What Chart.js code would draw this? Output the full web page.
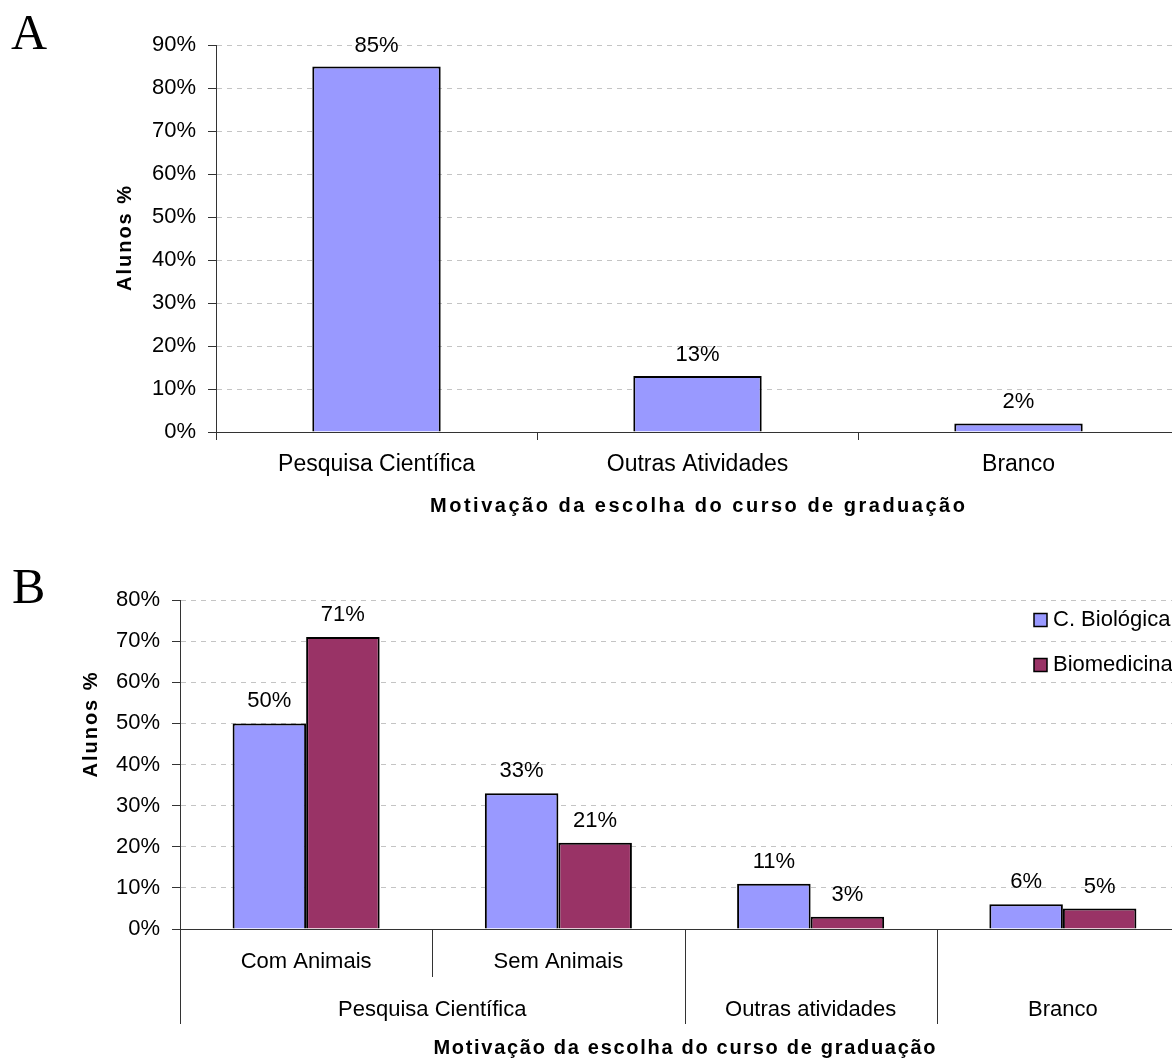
<!DOCTYPE html>
<html lang="pt">
<head>
<meta charset="utf-8">
<title>Motivação da escolha do curso de graduação</title>
<script src="https://cdn.jsdelivr.net/npm/chart.js@4/dist/chart.umd.min.js"></script>
<style>
  html, body { margin: 0; padding: 0; background: #fff; overflow: hidden; width: 1172px; height: 1061px; }
  canvas { position: absolute; left: 0; }
  #chartA { top: 0; }
  #chartB { top: 540px; }
</style>
</head>
<body>
<canvas id="chartA" width="1210" height="540"></canvas>
<canvas id="chartB" width="1210" height="521"></canvas>
<script>
// ---- Painel A: todos os alunos ----
const categoriasA = ['Pesquisa Científica', 'Outras Atividades', 'Branco'];
const valoresA = [85, 13, 2];
const ticksA = [0, 10, 20, 30, 40, 50, 60, 70, 80, 90];

// ---- Painel B: por curso ----
const subcategoriasB = ['Com Animais', 'Sem Animais', '', ''];
const gruposB = ['Pesquisa Científica', 'Outras atividades', 'Branco'];
const gruposSpanB = [2, 1, 1];
const serieBiologicas = [50, 33, 11, 6];
const serieBiomedicina = [71, 21, 3, 5];
const nomesSeriesB = ['C. Biológica', 'Biomedicina'];
const ticksB = [0, 10, 20, 30, 40, 50, 60, 70, 80];

const SANS = '"Liberation Sans", Arial, sans-serif';
const SERIF = '"Liberation Serif", "Times New Roman", serif';
const AZUL = '#9999FF';
const VINHO = '#993366';
const EIXO = '#333333';
const GRADE = '#c4c4c4';

// Text with letter spacing, centred on x
function textoEspacado(ctx, text, x, y, spacing) {
  ctx.letterSpacing = spacing + 'px';
  const w = ctx.measureText(text).width - spacing;
  ctx.textAlign = 'left';
  ctx.fillText(text, x - w / 2, y);
  ctx.letterSpacing = '0px';
}

// Panel letter and axis titles
const titulos = {
  id: 'titulos',
  afterDraw(chart, args, o) {
    const { ctx, chartArea: ca } = chart;
    ctx.save();
    ctx.fillStyle = '#000';
    ctx.font = '50px ' + SERIF;
    ctx.textAlign = 'left';
    ctx.textBaseline = 'alphabetic';
    ctx.fillText(o.letra, o.letraX, o.letraY);

    ctx.font = 'bold ' + o.tamanho + 'px ' + SANS;
    ctx.textBaseline = 'middle';
    textoEspacado(ctx, o.tituloX, (ca.left + ca.right) / 2, o.tituloXY, o.espacoX);

    ctx.translate(o.tituloYX, o.tituloYY != null ? o.tituloYY : (ca.top + ca.bottom) / 2);
    ctx.rotate(-Math.PI / 2);
    textoEspacado(ctx, o.tituloY, 0, 0, o.espacoY);
    ctx.restore();
  }
};

// Value labels above each bar
const rotulos = {
  id: 'rotulos',
  afterDatasetsDraw(chart, args, o) {
    const ctx = chart.ctx;
    ctx.save();
    ctx.font = o.tamanho + 'px ' + SANS;
    ctx.fillStyle = '#000';
    ctx.textAlign = 'center';
    ctx.textBaseline = 'middle';
    chart.data.datasets.forEach((ds, di) => {
      chart.getDatasetMeta(di).data.forEach((bar, i) => {
        ctx.fillText(ds.data[i] + '%', bar.x, bar.y - o.distancia);
      });
    });
    ctx.restore();
  }
};

// Two-level category axis: separators and group labels
const grupos = {
  id: 'grupos',
  afterDraw(chart, args, o) {
    const { ctx, chartArea: ca } = chart;
    const x = chart.scales.x;
    const n = chart.data.labels.length;
    const meia = (x.getPixelForValue(1) - x.getPixelForValue(0)) / 2;
    const borda = i => x.getPixelForValue(i) - meia;
    const inicios = new Set();
    let s = 0;
    gruposSpanB.forEach(span => { inicios.add(s); s += span; });
    inicios.add(s);
    ctx.save();
    ctx.strokeStyle = EIXO;
    ctx.lineWidth = 1;
    for (let i = 0; i <= n; i++) {
      const px = Math.round(borda(i)) + 0.5;
      const len = inicios.has(i) ? o.longo : o.curto;
      ctx.beginPath();
      ctx.moveTo(px, ca.bottom);
      ctx.lineTo(px, ca.bottom + len);
      ctx.stroke();
    }
    ctx.font = o.tamanho + 'px ' + SANS;
    ctx.fillStyle = '#000';
    ctx.textAlign = 'center';
    ctx.textBaseline = 'middle';
    s = 0;
    gruposB.forEach((g, k) => {
      const cx = (borda(s) + borda(s + gruposSpanB[k])) / 2;
      ctx.fillText(g, cx, ca.bottom + o.yRotulo);
      s += gruposSpanB[k];
    });
    ctx.restore();
  }
};

// Legend drawn inside the plot, top right
const legenda = {
  id: 'legenda',
  afterDraw(chart, args, o) {
    const ctx = chart.ctx;
    ctx.save();
    ctx.font = o.tamanho + 'px ' + SANS;
    ctx.textAlign = 'left';
    ctx.textBaseline = 'middle';
    chart.data.datasets.forEach((ds, i) => {
      const y = o.y + i * o.passo;
      ctx.fillStyle = ds.backgroundColor;
      ctx.fillRect(o.x, y - o.caixa / 2, o.caixa, o.caixa);
      ctx.strokeStyle = '#000';
      ctx.lineWidth = 1.5;
      ctx.strokeRect(o.x, y - o.caixa / 2, o.caixa, o.caixa);
      ctx.fillStyle = '#000';
      ctx.fillText(ds.label, o.x + o.caixa + 6, y);
    });
    ctx.restore();
  }
};

function escalaY(ticks, largura) {
  return {
    min: ticks[0],
    max: ticks[ticks.length - 1],
    afterBuildTicks: sc => { sc.ticks = ticks.map(v => ({ value: v })); },
    afterFit: sc => { sc.width = largura; },
    ticks: { callback: v => v + '%', color: '#000', padding: 12, font: { family: SANS, size: 22 } },
    grid: { color: GRADE, lineWidth: 1, tickColor: EIXO, tickLength: 8, tickBorderDash: [] },
    border: { display: true, color: EIXO, width: 1, dash: [5, 5] }
  };
}

Chart.defaults.font.family = SANS;

new Chart(document.getElementById('chartA'), {
  type: 'bar',
  data: {
    labels: categoriasA,
    datasets: [{
      label: 'Alunos',
      data: valoresA,
      backgroundColor: AZUL,
      borderColor: '#000',
      borderWidth: 2,
      categoryPercentage: 1,
      barPercentage: 0.4
    }]
  },
  plugins: [titulos, rotulos],
  options: {
    responsive: false,
    animation: false,
    events: [],
    devicePixelRatio: 1,
    layout: { padding: { left: 0, top: 45, right: 31, bottom: 0 } },
    plugins: {
      legend: { display: false },
      tooltip: { enabled: false },
      titulos: {
        letra: 'A', letraX: 11, letraY: 49,
        tituloX: 'Motivação da escolha do curso de graduação', tituloXY: 506,
        tituloY: 'Alunos %', tituloYX: 125, tituloYY: null,
        tamanho: 20, espacoX: 2.5, espacoY: 2
      },
      rotulos: { tamanho: 22, distancia: 21 }
    },
    scales: {
      x: {
        afterFit: sc => { sc.height = 108; },
        ticks: { color: '#000', padding: 11, maxRotation: 0, autoSkip: false, font: { family: SANS, size: 23 } },
        grid: { display: true, drawOnChartArea: false, drawTicks: true, tickLength: 8, color: EIXO, tickColor: EIXO },
        border: { display: true, color: EIXO, width: 1 }
      },
      y: escalaY(ticksA, 216)
    }
  }
});

new Chart(document.getElementById('chartB'), {
  type: 'bar',
  data: {
    labels: subcategoriasB,
    datasets: [
      { label: nomesSeriesB[0], data: serieBiologicas, backgroundColor: AZUL, borderColor: '#000', borderWidth: 2, categoryPercentage: 0.583, barPercentage: 1 },
      { label: nomesSeriesB[1], data: serieBiomedicina, backgroundColor: VINHO, borderColor: '#000', borderWidth: 2, categoryPercentage: 0.583, barPercentage: 1 }
    ]
  },
  plugins: [titulos, rotulos, grupos, legenda],
  options: {
    responsive: false,
    animation: false,
    events: [],
    devicePixelRatio: 1,
    layout: { padding: { left: 0, top: 60, right: 21, bottom: 0 } },
    plugins: {
      legend: { display: false },
      tooltip: { enabled: false },
      titulos: {
        letra: 'B', letraX: 12, letraY: 63,
        tituloX: 'Motivação da escolha do curso de graduação', tituloXY: 508,
        tituloY: 'Alunos %', tituloYX: 91, tituloYY: 185,
        tamanho: 20, espacoX: 1.7, espacoY: 2
      },
      rotulos: { tamanho: 22, distancia: 22 },
      grupos: { tamanho: 22, curto: 48, longo: 95, yRotulo: 81 },
      legenda: { tamanho: 22, x: 1034, y: 80, passo: 45, caixa: 13 }
    },
    scales: {
      x: {
        afterFit: sc => { sc.height = 132; },
        ticks: { color: '#000', padding: 20, maxRotation: 0, autoSkip: false, font: { family: SANS, size: 22 } },
        grid: { display: false, drawTicks: false },
        border: { display: true, color: EIXO, width: 1 }
      },
      y: escalaY(ticksB, 180)
    }
  }
});
</script>
</body>
</html>
